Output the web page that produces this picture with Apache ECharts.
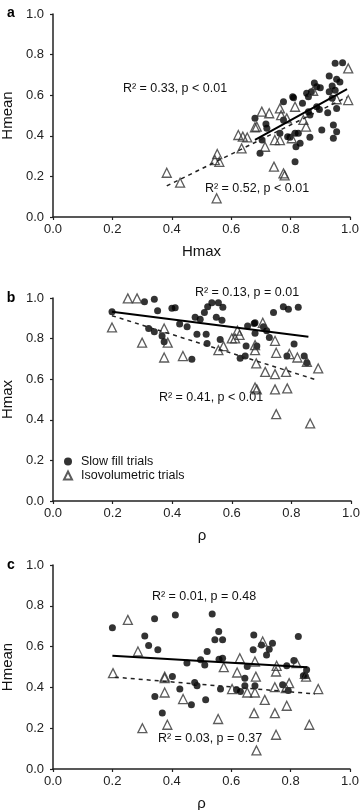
<!DOCTYPE html>
<html>
<head>
<meta charset="utf-8">
<script src="https://cdn.jsdelivr.net/npm/echarts@6/dist/echarts.min.js"></script>
<style>
  html, body { margin: 0; padding: 0; background: #fff; }
  #chart { width: 362px; height: 810px; }
</style>
</head>
<body>
<div id="chart"></div>
<script>
// axis ticks (shared by all three panels)
const ticks = [0, 0.2, 0.4, 0.6, 0.8, 1.0];

// panel a: Hmean vs Hmax
const slowA = [
  [0.95,0.757],[0.975,0.76],[0.93,0.695],[0.955,0.678],[0.966,0.665],[0.88,0.66],[0.888,0.642],
  [0.90,0.637],[0.94,0.645],[0.95,0.625],[0.93,0.617],[0.854,0.61],[0.86,0.592],[0.807,0.592],
  [0.776,0.568],[0.84,0.56],[0.94,0.585],[0.888,0.543],[0.897,0.53],[0.86,0.519],[0.865,0.502],
  [0.925,0.514],[0.955,0.535],[0.776,0.478],[0.68,0.486],[0.717,0.458],[0.72,0.437],[0.944,0.453],
  [0.905,0.428],[0.955,0.42],[0.944,0.388],[0.815,0.412],[0.826,0.412],[0.798,0.393],[0.764,0.412],
  [0.865,0.393],[0.832,0.363],[0.818,0.346],[0.704,0.379],[0.697,0.314],[0.815,0.272],[0.79,0.395],
  [0.81,0.588],[0.87,0.617]
];
const isoA = [
  [0.383,0.218],[0.428,0.169],[0.551,0.092],[0.553,0.31],[0.545,0.28],[0.56,0.272],[0.635,0.338],
  [0.624,0.404],[0.639,0.396],[0.654,0.392],[0.714,0.346],[0.744,0.248],[0.776,0.215],[0.78,0.205],
  [0.747,0.379],[0.764,0.379],[0.686,0.445],[0.703,0.519],[0.728,0.511],[0.764,0.535],[0.768,0.502],
  [0.787,0.486],[0.815,0.543],[0.843,0.478],[0.852,0.445],[0.876,0.622],[0.955,0.58],[0.994,0.576],
  [0.994,0.732],[0.804,0.388],[0.68,0.442]
];
const fitSlowA = [[0.68,0.38],[0.99,0.63]];
const fitIsoA = [[0.383,0.153],[0.989,0.59]];

// panel b: Hmax vs rho
const slowB = [
  [0.198,0.932],[0.307,0.982],[0.34,0.994],[0.351,0.937],[0.399,0.949],[0.41,0.952],[0.425,0.872],
  [0.45,0.858],[0.321,0.85],[0.34,0.834],[0.366,0.813],[0.373,0.784],[0.466,0.698],[0.477,0.905],
  [0.494,0.895],[0.483,0.822],[0.514,0.822],[0.517,0.776],[0.508,0.928],[0.519,0.957],[0.533,0.977],
  [0.555,0.977],[0.57,0.954],[0.548,0.905],[0.567,0.891],[0.561,0.796],[0.628,0.703],[0.645,0.714],
  [0.653,0.862],[0.675,0.875],[0.678,0.826],[0.648,0.763],[0.684,0.763],[0.706,0.858],[0.717,0.839],
  [0.726,0.806],[0.74,0.928],[0.773,0.957],[0.79,0.944],[0.823,0.954],[0.809,0.773],[0.785,0.714],
  [0.843,0.714],[0.852,0.681],[0.678,0.878]
];
const isoB = [
  [0.198,0.855],[0.251,0.998],[0.282,0.998],[0.299,0.78],[0.373,0.85],[0.385,0.78],[0.373,0.707],
  [0.436,0.714],[0.555,0.743],[0.572,0.763],[0.6,0.801],[0.619,0.839],[0.626,0.818],[0.611,0.801],
  [0.678,0.768],[0.678,0.743],[0.682,0.678],[0.712,0.636],[0.745,0.625],[0.782,0.636],[0.749,0.73],
  [0.793,0.724],[0.82,0.707],[0.89,0.653],[0.745,0.789],[0.704,0.878],[0.678,0.559],[0.684,0.55],
  [0.745,0.55],[0.786,0.555],[0.749,0.428],[0.863,0.382],[0.852,0.686]
];
const fitSlowB = [[0.198,0.932],[0.857,0.809]];
const fitIsoB = [[0.198,0.913],[0.879,0.599]];

// panel c: Hmean vs rho
const slowC = [
  [0.2,0.693],[0.309,0.652],[0.342,0.736],[0.322,0.605],[0.353,0.584],[0.412,0.755],[0.536,0.76],
  [0.451,0.519],[0.497,0.535],[0.511,0.51],[0.519,0.576],[0.545,0.633],[0.558,0.674],[0.571,0.633],
  [0.559,0.538],[0.571,0.543],[0.654,0.502],[0.676,0.657],[0.674,0.584],[0.702,0.608],[0.719,0.559],
  [0.728,0.587],[0.739,0.617],[0.787,0.506],[0.811,0.532],[0.826,0.649],[0.854,0.486],[0.849,0.457],
  [0.402,0.453],[0.646,0.445],[0.343,0.355],[0.368,0.274],[0.427,0.392],[0.477,0.424],[0.485,0.408],
  [0.466,0.315],[0.514,0.339],[0.564,0.392],[0.618,0.388],[0.631,0.38],[0.646,0.408],[0.68,0.408],
  [0.773,0.413],[0.792,0.385],[0.843,0.457]
];
const isoC = [
  [0.252,0.731],[0.286,0.576],[0.202,0.47],[0.376,0.453],[0.575,0.499],[0.629,0.543],[0.62,0.473],
  [0.68,0.527],[0.706,0.625],[0.753,0.506],[0.751,0.478],[0.82,0.519],[0.852,0.453],[0.683,0.453],
  [0.376,0.445],[0.376,0.375],[0.301,0.2],[0.385,0.217],[0.438,0.343],[0.556,0.245],[0.603,0.392],
  [0.654,0.375],[0.68,0.375],[0.677,0.274],[0.713,0.339],[0.685,0.091],[0.747,0.401],[0.747,0.274],
  [0.751,0.168],[0.784,0.396],[0.795,0.421],[0.787,0.31],[0.863,0.217],[0.893,0.392],[0.848,0.466]
];
const fitSlowC = [[0.2,0.555],[0.856,0.499]];
const fitIsoC = [[0.208,0.45],[0.882,0.368]];

const annotations = [
  { text: 'R² = 0.33, p < 0.01', x: 175, y: 89 },
  { text: 'R² = 0.52, p < 0.01', x: 257, y: 189 },
  { text: 'R² = 0.13, p = 0.01', x: 247, y: 293 },
  { text: 'R² = 0.41, p < 0.01', x: 211, y: 398 },
  { text: 'R² = 0.01, p = 0.48', x: 204, y: 597 },
  { text: 'R² = 0.03, p = 0.37', x: 210, y: 739 }
];

const FONT = 'Liberation Sans, Arial, sans-serif';
const grids = [
  { left: 53, top: 14, width: 297, height: 203 },
  { left: 53, top: 298, width: 298, height: 203 },
  { left: 53, top: 565, width: 297, height: 204 }
];
const xNames = ['Hmax', 'ρ', 'ρ'];
const yNames = ['Hmean', 'Hmax', 'Hmean'];

function mkAxis(i, isX) {
  return {
    type: 'value',
    gridIndex: i,
    min: ticks[0],
    max: ticks[ticks.length - 1],
    interval: 0.2,
    name: isX ? xNames[i] : yNames[i],
    nameLocation: 'middle',
    nameGap: isX ? 27 : 34,
    nameTextStyle: { fontFamily: FONT, fontSize: 15, color: '#111' },
    axisLine: { show: true, onZero: false, lineStyle: { color: '#222', width: 1.5 } },
    axisTick: { show: true, inside: false, length: 3, lineStyle: { color: '#222', width: 1.2 } },
    axisLabel: {
      fontFamily: FONT, fontSize: 13, color: '#222',
      margin: isX ? 6 : 9,
      formatter: v => v.toFixed(1)
    },
    splitLine: { show: false }
  };
}

const dotStyle = { color: '#000' };
const triStyle = { color: 'rgba(0,0,0,0)', borderColor: '#333', borderWidth: 1.3 };

function scatterPair(i, slow, iso) {
  return [
    { name: 'Slow fill trials', type: 'scatter', xAxisIndex: i, yAxisIndex: i,
      symbol: 'circle', symbolSize: 7, itemStyle: dotStyle, data: slow, z: 3 },
    { name: 'Isovolumetric trials', type: 'scatter', xAxisIndex: i, yAxisIndex: i,
      symbol: 'triangle', symbolSize: 9, itemStyle: triStyle, data: iso, z: 4 }
  ];
}
function fitPair(i, fs, fi) {
  return [
    { type: 'line', xAxisIndex: i, yAxisIndex: i, data: fs, symbol: 'none',
      lineStyle: { color: '#000', width: 2 }, z: 5, silent: true },
    { type: 'line', xAxisIndex: i, yAxisIndex: i, data: fi, symbol: 'none',
      lineStyle: { color: '#222', width: 1.5, type: [4, 4] }, z: 5, silent: true }
  ];
}

const chart = echarts.init(document.getElementById('chart'), null, { renderer: 'canvas' });
chart.setOption({
  animation: false,
  backgroundColor: '#fff',
  grid: grids.map(g => Object.assign({ outerBoundsMode: 'none', containLabel: false }, g)),
  xAxis: [0, 1, 2].map(i => mkAxis(i, true)),
  yAxis: [0, 1, 2].map(i => mkAxis(i, false)),
  legend: {
    data: ['Slow fill trials', 'Isovolumetric trials'],
    orient: 'vertical',
    left: 63,
    top: 455,
    itemWidth: 8,
    itemHeight: 8,
    itemGap: 1,
    padding: 0,
    textStyle: { fontFamily: FONT, fontSize: 12.5, color: '#111', padding: [0, 0, 0, 4] }
  },
  graphic: annotations.map(a => ({
    type: 'text', x: a.x, y: a.y,
    style: { text: a.text, fontFamily: FONT, fontSize: 12.5, fill: '#111',
      align: 'center', verticalAlign: 'middle' }
  })).concat(['a', 'b', 'c'].map((t, i) => ({
    type: 'text', x: 11, y: [13, 298, 565][i],
    style: { text: t, fontFamily: FONT, fontSize: 14, fontWeight: 'bold', fill: '#000',
      align: 'center', verticalAlign: 'middle' }
  }))),
  series: [].concat(
    scatterPair(0, slowA, isoA), fitPair(0, fitSlowA, fitIsoA),
    scatterPair(1, slowB, isoB), fitPair(1, fitSlowB, fitIsoB),
    scatterPair(2, slowC, isoC), fitPair(2, fitSlowC, fitIsoC)
  )
});
</script>
</body>
</html>
